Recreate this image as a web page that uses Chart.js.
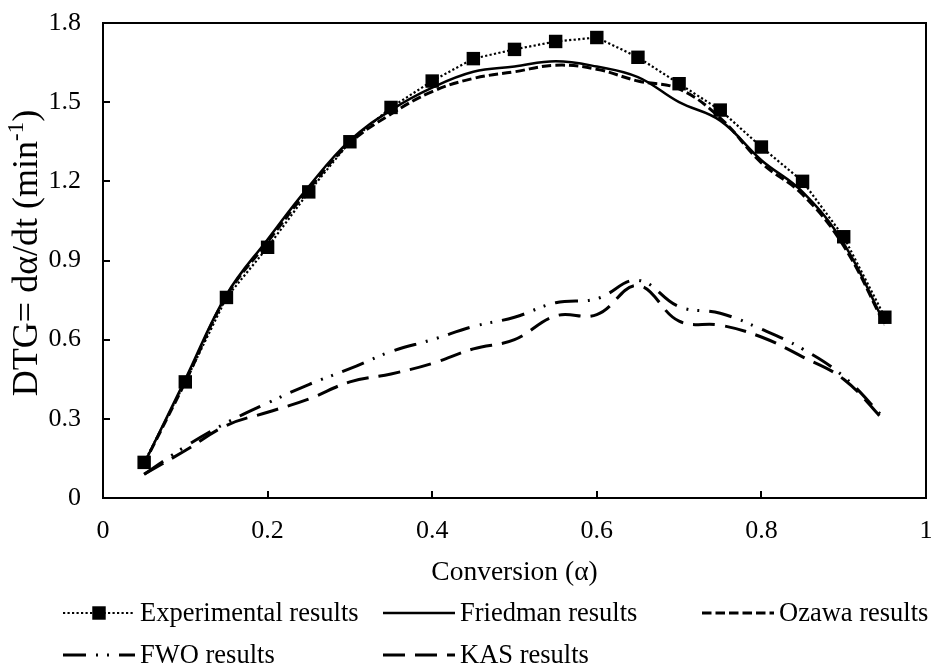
<!DOCTYPE html>
<html><head><meta charset="utf-8">
<script src="https://cdn.jsdelivr.net/npm/chart.js@4.4.0/dist/chart.umd.min.js"></script>
<style>html,body{margin:0;padding:0;background:#fff}#wrap{width:932px;height:666px;position:relative}</style>
</head><body><div id="wrap"><canvas id="c" width="932" height="666"></canvas></div>
<script>
const conversion   = [0.05,0.10,0.15,0.20,0.25,0.30,0.35,0.40,0.45,0.50,0.55,0.60,0.65,0.70,0.75,0.80,0.85,0.90,0.95];
const experimental = [0.135,0.44,0.76,0.95,1.16,1.35,1.48,1.58,1.665,1.70,1.73,1.745,1.67,1.57,1.47,1.33,1.20,0.99,0.685];
const friedman     = [0.13,0.45,0.77,0.98,1.18,1.355,1.47,1.555,1.615,1.635,1.655,1.635,1.595,1.50,1.43,1.28,1.16,0.965,0.66];
const ozawa        = [0.13,0.44,0.765,0.97,1.17,1.345,1.455,1.54,1.59,1.615,1.64,1.625,1.58,1.55,1.44,1.27,1.15,0.955,0.655];
const fwo          = [0.09,0.195,0.285,0.36,0.43,0.49,0.555,0.60,0.65,0.685,0.74,0.755,0.825,0.725,0.70,0.64,0.565,0.46,0.30];
const kas          = [0.09,0.18,0.275,0.325,0.375,0.44,0.47,0.51,0.565,0.60,0.69,0.695,0.805,0.67,0.655,0.61,0.535,0.45,0.29];
const seriesNames  = ['Experimental results','Friedman results','Ozawa results','FWO results','KAS results'];
const xTickLabels  = ['0','0.2','0.4','0.6','0.8','1'];
const yTickLabels  = ['0','0.3','0.6','0.9','1.2','1.5','1.8'];
const xTitle = 'Conversion (α)';
const yTitleMain = 'DTG= dα/dt (min', yTitleSup = '-1', yTitleEnd = ')';

const FONT = '"Liberation Serif", "Times New Roman", serif';
Chart.defaults.font.family = FONT;
Chart.defaults.font.size = 26;
Chart.defaults.color = '#000';

const pts = arr => conversion.map((c, i) => ({x: c, y: arr[i]}));

const styles = [
  {borderWidth: 2.2, borderDash: [2.2, 2.3], tension: 0, pointRadius: 9.5, pointStyle: 'rect'},
  {borderWidth: 2.5, borderDash: [], tension: 0.4, pointRadius: 0},
  {borderWidth: 3, borderDash: [9.5, 4], tension: 0.4, pointRadius: 0},
  {borderWidth: 3, borderDash: [23, 10, 2, 9, 2, 10], tension: 0.4, pointRadius: 0},
  {borderWidth: 3, borderDash: [22, 10], tension: 0.4, pointRadius: 0}
];
const seriesData = [experimental, friedman, ozawa, fwo, kas];

const datasets = seriesData.map((d, i) => Object.assign({
  label: seriesNames[i],
  data: pts(d),
  borderColor: '#000',
  backgroundColor: '#000',
  pointBackgroundColor: '#000',
  pointBorderColor: '#000',
  pointBorderWidth: 0,
  fill: false
}, styles[i]));

const legendPos = [[63,613],[383,613],[702,613],[63,655],[383,655]];

const decor = {
  id: 'decor',
  afterDraw(chart) {
    const {ctx, chartArea: a, scales: {x, y}} = chart;
    ctx.save();
    ctx.strokeStyle = '#000';
    ctx.lineWidth = 2;
    ctx.setLineDash([]);
    ctx.strokeRect(a.left, a.top, a.right - a.left, a.bottom - a.top);
    ctx.beginPath();
    x.ticks.forEach(t => { const p = Math.round(x.getPixelForValue(t.value)); ctx.moveTo(p, a.bottom); ctx.lineTo(p, a.bottom - 7); });
    y.ticks.forEach(t => { const p = Math.round(y.getPixelForValue(t.value)); ctx.moveTo(a.left, p); ctx.lineTo(a.left + 7, p); });
    ctx.stroke();

    ctx.fillStyle = '#000';
    ctx.font = '27.5px ' + FONT;
    ctx.textAlign = 'center';
    ctx.textBaseline = 'alphabetic';
    ctx.fillText(xTitle, (a.left + a.right) / 2, 580);

    // y title with superscript
    ctx.save();
    const big = '36px ' + FONT, small = '23px ' + FONT;
    ctx.font = big;
    const w1 = ctx.measureText(yTitleMain).width;
    const w3 = ctx.measureText(yTitleEnd).width;
    ctx.font = small;
    const w2 = ctx.measureText(yTitleSup).width;
    const tot = w1 + w2 + w3;
    ctx.translate(37, 253);
    ctx.rotate(-Math.PI / 2);
    ctx.textAlign = 'left';
    let sx = -tot / 2;
    ctx.font = big;
    ctx.fillText(yTitleMain, sx, 0); sx += w1;
    ctx.font = small;
    ctx.fillText(yTitleSup, sx, -14); sx += w2;
    ctx.font = big;
    ctx.fillText(yTitleEnd, sx, 0);
    ctx.restore();

    // legend
    chart.data.datasets.forEach((ds, i) => {
      const [lx, ly] = legendPos[i];
      ctx.save();
      ctx.strokeStyle = '#000';
      ctx.lineWidth = ds.borderWidth;
      ctx.setLineDash(ds.borderDash || []);
      ctx.beginPath();
      ctx.moveTo(lx, ly); ctx.lineTo(lx + 72, ly);
      ctx.stroke();
      if (ds.pointRadius > 0) {
        const s = ds.pointRadius * Math.SQRT1_2;
        ctx.fillStyle = '#000';
        ctx.fillRect(lx + 36 - s, ly - s, 2 * s, 2 * s);
      }
      ctx.fillStyle = '#000';
      ctx.font = '26.5px ' + FONT;
      ctx.textAlign = 'left';
      ctx.textBaseline = 'alphabetic';
      ctx.fillText(ds.label, lx + 77, ly + 8);
      ctx.restore();
    });
    ctx.restore();
  }
};

const fixPad = s => { s.paddingTop = 0; s.paddingBottom = 0; s.paddingLeft = 0; s.paddingRight = 0; };

new Chart(document.getElementById('c'), {
  type: 'line',
  data: {datasets},
  options: {
    responsive: false,
    animation: false,
    devicePixelRatio: 1,
    events: [],
    layout: {autoPadding: false, padding: {top: 23, right: 6, left: 0, bottom: 0}},
    plugins: {legend: {display: false}, tooltip: {enabled: false}},
    scales: {
      x: {
        type: 'linear', min: 0, max: 1,
        grid: {display: false, drawTicks: false},
        border: {display: false},
        ticks: {stepSize: 0.2, padding: 18, maxRotation: 0,
          callback: v => xTickLabels.find(l => Math.abs(parseFloat(l) - v) < 1e-6) ?? ''},
        afterFit: s => { s.height = 168; fixPad(s); }
      },
      y: {
        type: 'linear', min: 0, max: 1.8,
        grid: {display: false, drawTicks: false},
        border: {display: false},
        ticks: {stepSize: 0.3, padding: 22,
          callback: v => yTickLabels.find(l => Math.abs(parseFloat(l) - v) < 1e-6) ?? ''},
        afterFit: s => { s.width = 103; fixPad(s); }
      }
    }
  },
  plugins: [decor]
});
</script>
</body></html>
